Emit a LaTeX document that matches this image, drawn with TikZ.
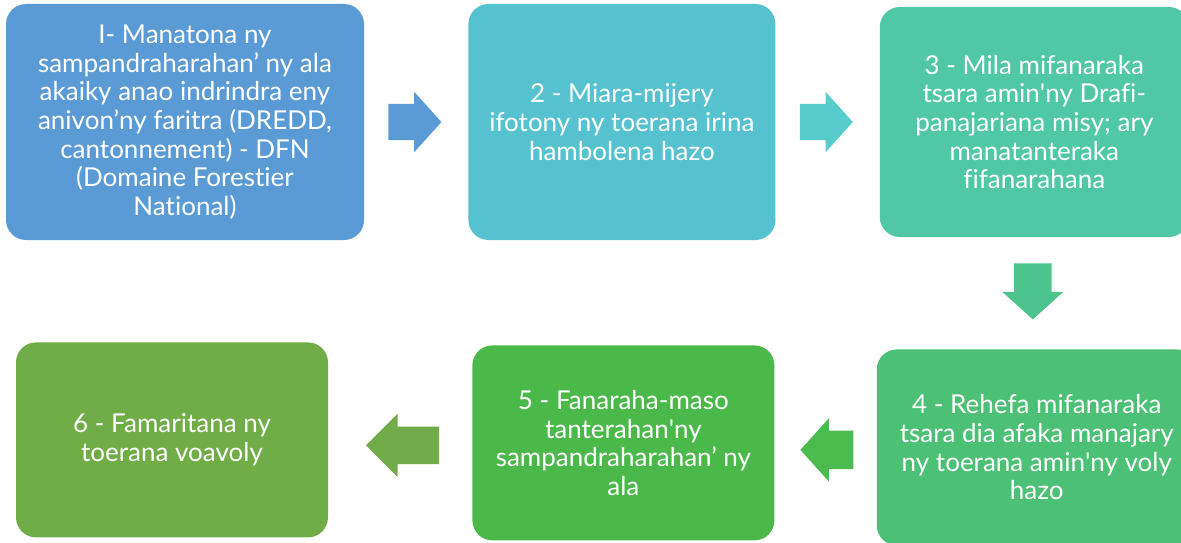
\documentclass[tikz,border=0pt]{standalone}
\usepackage{fontspec}
\setmainfont{Lato}[Ligatures={TeX,NoCommon}]
\definecolor{stepblue}{RGB}{91, 155, 213}
\definecolor{stepteal}{RGB}{86, 194, 207}
\definecolor{arrteal}{RGB}{86, 205, 204}
\definecolor{stepsea}{RGB}{80, 199, 165}
\definecolor{arrsea}{RGB}{77, 196, 142}
\definecolor{stepmint}{RGB}{76, 193, 117}
\definecolor{stepgreen}{RGB}{75, 185, 74}
\definecolor{arrgreen}{RGB}{75, 186, 79}
\definecolor{stepolive}{RGB}{112, 173, 71}
\definecolor{arrolive}{RGB}{114, 172, 74}
\usetikzlibrary{positioning, shapes.arrows, calc}
\newcommand{\sq}{\textquotesingle}

\begin{document}
\begin{tikzpicture}[
      x=1pt, y=1pt,
      phase/.style={rounded corners=20pt, inner sep=0pt, align=center, text=white,
        font=\fontsize{26}{28.7}\selectfont, minimum height=195pt},
      blockarr/.style={single arrow, anchor=tail, inner xsep=0pt, inner ysep=18pt,
        single arrow head extend=12pt, single arrow tip angle=96, minimum height=53pt},
    ]
      \useasboundingbox (0,0) rectangle (1181,-543);
      \clip (0,0) rectangle (1181,-543);

      % top row
      \node[phase, fill=stepblue, minimum width=358pt, minimum height=236pt] (s1) at (185,-122)
        {I- Manatona ny\\sampandraharahan’ ny ala\\akaiky anao indrindra eny\\anivon’ny faritra (DREDD,\\cantonnement) - DFN\\(Domaine Forestier\\National)};
      \node[phase, fill=stepteal, minimum width=307pt, minimum height=236pt, right=104pt of s1] (s2)
        {2 - Miara-mijery\\ifotony ny toerana irina\\hambolena hazo};
      \node[phase, fill=stepsea, minimum width=309pt, minimum height=230pt, right=104pt of s2] (s3)
        {3 - Mila mifanaraka\\tsara amin\sq ny Drafi-\\panajariana misy; ary\\manatanteraka\\fifanarahana};

      % bottom row, right to left
      \node[phase, fill=stepmint, minimum width=320pt, minimum height=196pt, below=112pt of s3, xshift=2.5pt] (s4)
        {4 - Rehefa mifanaraka\\tsara dia afaka manajary\\ny toerana amin\sq ny voly\\hazo};
      \node[phase, fill=stepgreen, minimum width=302pt, left=102pt of s4, yshift=4.5pt] (s5)
        {5 - Fanaraha-maso\\tanterahan\sq ny\\sampandraharahan’ ny\\ala};
      \node[phase, fill=stepolive, minimum width=312pt, left=144pt of s5, yshift=3pt] (s6)
        {6 - Famaritana ny\\toerana voavoly};

      % block arrows
      \node[blockarr, fill=stepblue] (a12) at ($(s1.east)+(24,0)$) {};
      \node[blockarr, fill=arrteal] (a23) at ($(s2.east)+(24,0)$) {};
      \node[blockarr, fill=arrsea, shape border rotate=270, inner xsep=18.5pt, inner ysep=0pt,
        minimum height=56pt] (a34) at ($(s3.south)+(-1.5,-26)$) {};
      \node[blockarr, fill=arrgreen, shape border rotate=180, inner ysep=19pt,
        single arrow head extend=12.5pt] (a45) at ($(s4.west)+(-23,-2.5)$) {};
      \node[blockarr, fill=arrolive, shape border rotate=180, inner ysep=18.5pt, single arrow head extend=13pt,
        minimum height=73pt, single arrow tip angle=90] (a56) at ($(s5.west)+(-33,-2.5)$) {};
    \end{tikzpicture}
\end{document}
